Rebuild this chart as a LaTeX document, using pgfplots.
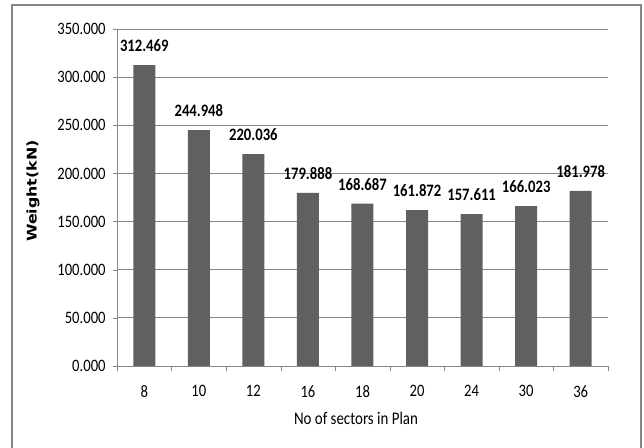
\documentclass[border=0pt]{standalone}
\usepackage{pgfplots}
\pgfplotsset{compat=1.18}
\usepackage{fontspec}
\setmainfont{Carlito}
\newfontfamily\labelfont{DejaVu Sans}
\usepackage{graphicx}
\definecolor{barfill}{RGB}{96,96,96}
\definecolor{linegray}{RGB}{134,134,134}
% text in this chart is set slightly taller than wide
\newcommand\vs[1]{\scalebox{1}[1.19]{#1}}
\begin{document}
\begin{tikzpicture}
\begin{axis}[
  scale only axis, width=368.25pt, height=252.75pt,
  xmin=-0.5, xmax=8.5, ymin=0, ymax=350,
  axis x line=bottom, axis y line=left,
  axis line style={linegray, -},
  ybar, bar width=16.5pt,
  xtick={0,...,8},
  xticklabels={\vs{8},\vs{10},\vs{12},\vs{16},\vs{18},\vs{20},\vs{24},\vs{30},\vs{36}},
  minor xtick={-0.5,0.5,...,8.5},
  major x tick style={draw=none},
  minor x tick style={linegray},
  minor tick length=3.75pt,
  ytick={0,50,...,350},
  major tick length=3pt,
  tick align=outside,
  ytick style={linegray},
  ymajorgrids, grid style={linegray, line width=0.6pt},
  /pgf/number format/assume math mode=true,
  font=\fontsize{11}{13}\selectfont,
  yticklabel={\vs{\pgfmathprintnumber[fixed,fixed zerofill,precision=3]{\tick}}},
  yticklabel style={xshift=-2pt},
  xticklabel style={yshift=-8pt},
  nodes near coords={\vs{\pgfmathprintnumber[fixed,fixed zerofill,precision=3]{\pgfplotspointmeta}}},
  every node near coord/.append style={anchor=center, yshift=14.6pt, font=\fontsize{11}{13}\selectfont\bfseries, black},
]
\addplot[fill=barfill, draw=none] coordinates {
  (0,312.469) (1,244.948) (2,220.036) (3,179.888) (4,168.687)
  (5,161.872) (6,157.611) (7,166.023) (8,181.978)
};
\coordinate (O) at (rel axis cs:0,0);
\end{axis}
% frame, axis titles and page extent, in pixel units from the plot's lower-left corner
\begin{scope}[shift={(O)}, x=0.75pt, y=0.75pt]
\draw[linegray, line width=0.8pt] (-105,-100) -- (-105,361) -- (524,361) -- (524,-100);
\node[font=\fontsize{11.2}{13}\selectfont] at (239,-52) {\vs{No of sectors in Plan}};
\node[rotate=90, font=\labelfont\fontsize{10}{12}\selectfont\bfseries] at (-84,175) {\scalebox{1.19}[1]{Weight(kN)}};
\pgfresetboundingbox
\path[use as bounding box] (-117,-82) rectangle (527,366);
\end{scope}
\end{tikzpicture}
\end{document}
